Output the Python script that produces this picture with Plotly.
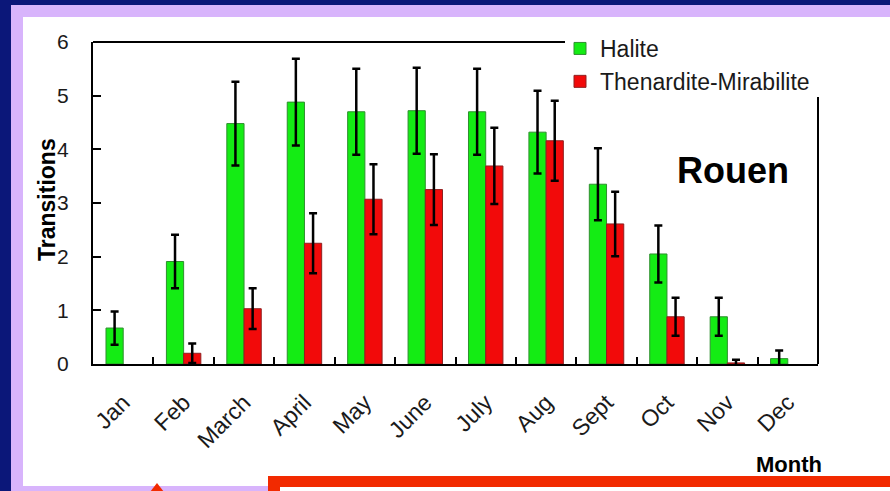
import plotly.graph_objects as go

# Monthly mean number of crystallisation transitions, Rouen
months = ["Jan", "Feb", "March", "April", "May", "June", "July", "Aug",
          "Sept", "Oct", "Nov", "Dec"]
halite = [0.67, 1.91, 4.48, 4.88, 4.70, 4.72, 4.70, 4.32, 3.35, 2.05, 0.88, 0.10]
halite_err = [0.31, 0.50, 0.78, 0.81, 0.80, 0.80, 0.80, 0.77, 0.67, 0.53, 0.355, 0.15]
thenardite = [None, 0.20, 1.03, 2.25, 3.07, 3.25, 3.69, 4.16, 2.61, 0.88, 0.02, None]
thenardite_err = [None, 0.18, 0.38, 0.56, 0.65, 0.66, 0.71, 0.745, 0.60, 0.355, 0.06, None]
y_ticks = [0, 1, 2, 3, 4, 5, 6]

FONT = "Liberation Sans, Arial, sans-serif"
W, H = 890, 491
# plot area in pixels
L, R, T, B = 93, 818, 42, 364


def px(x):
    return (x - L) / (R - L)


def py(y):
    return (B - y) / (B - T)


fig = go.Figure()
fig.add_trace(go.Bar(
    x=months, y=halite, name="Halite",
    marker=dict(color="#14ec14", line=dict(color="#2f8f2f", width=1)),
    error_y=dict(type="data", array=halite_err, color="black", thickness=2.5, width=4),
))
fig.add_trace(go.Bar(
    x=months, y=thenardite, name="Thenardite-Mirabilite",
    marker=dict(color="#f20a0a", line=dict(color="#8f2020", width=1)),
    error_y=dict(type="data", array=thenardite_err, color="black", thickness=2.5, width=4),
))

shapes = [
    # slide frame: lavender border and white panel
    dict(type="rect", xref="paper", yref="paper", layer="below",
         x0=px(11), x1=px(900), y0=py(5), y1=py(500),
         fillcolor="#d8b4fc", line=dict(width=0)),
    dict(type="rect", xref="paper", yref="paper", layer="below",
         x0=px(23), x1=px(900), y0=py(17), y1=py(486),
         fillcolor="white", line=dict(width=0)),
    # red box at the bottom
    dict(type="rect", xref="paper", yref="paper", layer="below",
         x0=px(268), x1=px(900), y0=py(476), y1=py(500),
         fillcolor="#f22a00", line=dict(width=0)),
    dict(type="rect", xref="paper", yref="paper", layer="below",
         x0=px(280), x1=px(900), y0=py(487), y1=py(500),
         fillcolor="white", line=dict(width=0)),
    # red arrow head
    dict(type="path", xref="paper", yref="paper", layer="above",
         path=f"M {px(150)},{py(492)} L {px(157)},{py(483)} L {px(164)},{py(492)} Z",
         fillcolor="#f22a00", line=dict(width=0)),
    # top and right borders of the axes box
    dict(type="line", xref="paper", yref="paper", layer="above",
         x0=0, x1=px(565), y0=1, y1=1, line=dict(color="black", width=2)),
    dict(type="line", xref="paper", yref="paper", layer="above",
         x0=1, x1=1, y0=0, y1=py(97), line=dict(color="black", width=2)),
]

annotations = [
    dict(text="<b>Rouen</b>", xref="paper", yref="paper", x=px(733), y=py(170),
         xanchor="center", yanchor="middle", showarrow=False,
         font=dict(family=FONT, size=36, color="black")),
    dict(text="<b>Transitions</b>", xref="paper", yref="paper", x=px(47), y=py(200),
         xanchor="center", yanchor="middle", textangle=-90, showarrow=False,
         font=dict(family=FONT, size=23, color="black")),
    dict(text="<b>Month</b>", xref="paper", yref="paper", x=px(789), y=py(464),
         xanchor="center", yanchor="middle", showarrow=False,
         font=dict(family=FONT, size=22, color="black")),
]

fig.update_layout(
    width=W, height=H, autosize=False,
    margin=dict(l=L, r=W - R, t=T, b=H - B, pad=0),
    paper_bgcolor="#0b1779",
    plot_bgcolor="rgba(0,0,0,0)",
    barmode="group", bargap=0.43, bargroupgap=0,
    font=dict(family=FONT, color="#1a1a1a"),
    shapes=shapes, annotations=annotations,
    showlegend=True,
    legend=dict(x=px(560), y=py(27), xanchor="left", yanchor="top",
                bgcolor="rgba(0,0,0,0)", font=dict(family=FONT, size=23, color="#1a1a1a"),
                itemwidth=30, tracegroupgap=0),
)
fig.update_xaxes(
    showline=True, linecolor="black", linewidth=2,
    ticks="inside", ticklen=7, tickwidth=2, tickcolor="black", tickson="boundaries",
    tickangle=-45, tickfont=dict(family=FONT, size=23, color="#1a1a1a"),
    ticklabelstandoff=14,
    showgrid=False, zeroline=False,
)
fig.update_yaxes(
    range=[0, 6], tickvals=y_ticks,
    showline=True, linecolor="black", linewidth=2,
    ticks="inside", ticklen=8, tickwidth=2, tickcolor="black",
    tickfont=dict(family=FONT, size=21, color="#1a1a1a"), ticklabelstandoff=18,
    showgrid=False, zeroline=False,
)

fig.write_html("out.html")
